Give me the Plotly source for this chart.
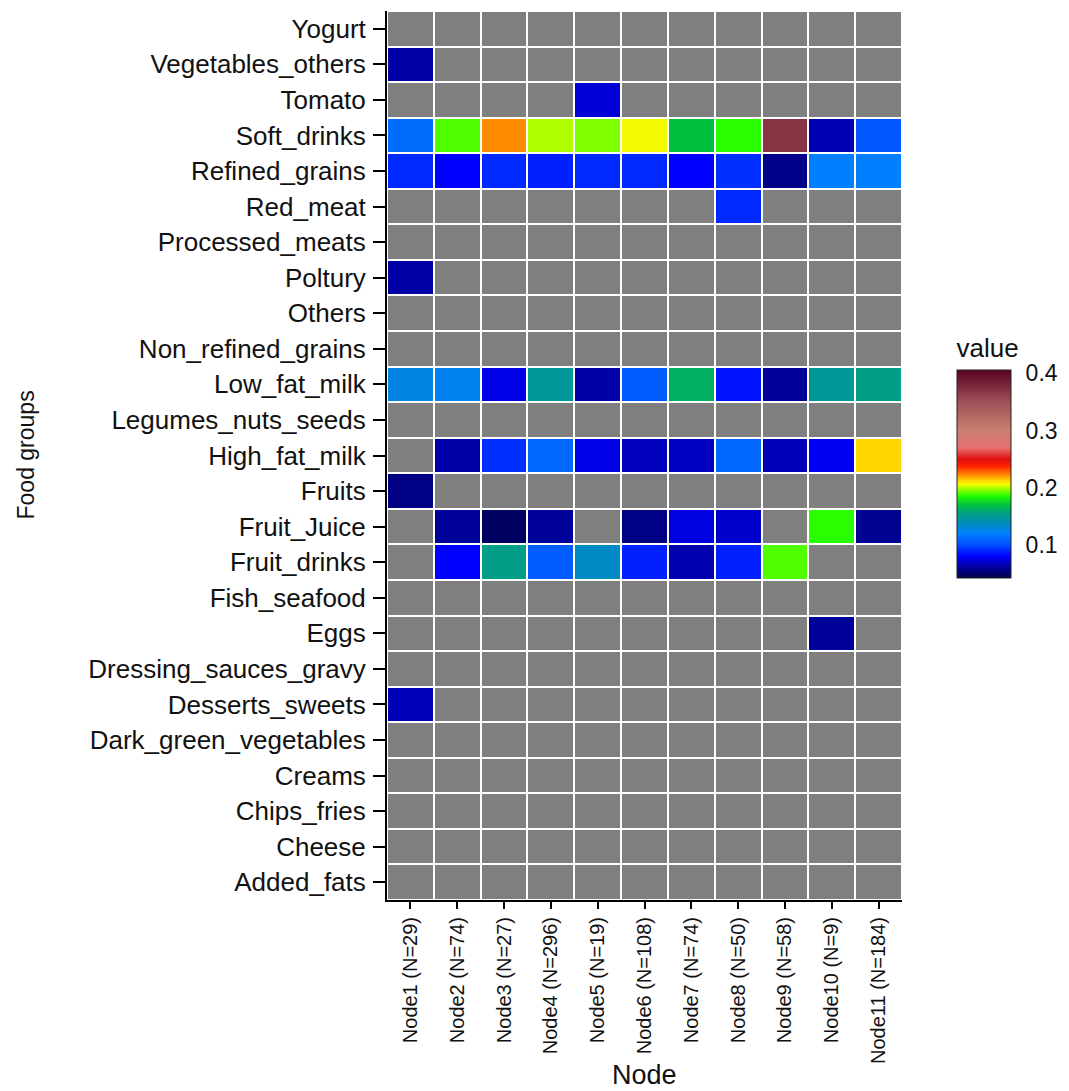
import plotly.graph_objects as go
import numpy as np

nodes = ["Node1 (N=29)", "Node2 (N=74)", "Node3 (N=27)", "Node4 (N=296)", "Node5 (N=19)",
         "Node6 (N=108)", "Node7 (N=74)", "Node8 (N=50)", "Node9 (N=58)", "Node10 (N=9)",
         "Node11 (N=184)"]

foods = ["Added_fats", "Cheese", "Chips_fries", "Creams", "Dark_green_vegetables",
         "Desserts_sweets", "Dressing_sauces_gravy", "Eggs", "Fish_seafood", "Fruit_drinks",
         "Fruit_Juice", "Fruits", "High_fat_milk", "Legumes_nuts_seeds", "Low_fat_milk",
         "Non_refined_grains", "Others", "Poltury", "Processed_meats", "Red_meat",
         "Refined_grains", "Soft_drinks", "Tomato", "Vegetables_others", "Yogurt"]

N = None
added_fats = [N] * 11
cheese = [N] * 11
chips_fries = [N] * 11
creams = [N] * 11
dark_green_vegetables = [N] * 11
desserts_sweets = [0.066, N, N, N, N, N, N, N, N, N, N]
dressing_sauces_gravy = [N] * 11
eggs = [N, N, N, N, N, N, N, N, N, 0.06, N]
fish_seafood = [N] * 11
fruit_drinks = [N, 0.08, 0.153, 0.105, 0.136, 0.088, 0.064, 0.088, 0.19, N, N]
fruit_juice = [N, 0.06, 0.047, 0.06, N, 0.055, 0.074, 0.07, N, 0.186, 0.058]
fruits = [0.055, N, N, N, N, N, N, N, N, N, N]
high_fat_milk = [N, 0.063, 0.092, 0.11, 0.075, 0.067, 0.068, 0.11, 0.066, 0.078, 0.212]
legumes_nuts_seeds = [N] * 11
low_fat_milk = [0.128, 0.124, 0.075, 0.148, 0.063, 0.105, 0.162, 0.085, 0.06, 0.148, 0.153]
non_refined_grains = [N] * 11
others = [N] * 11
poltury = [0.062, N, N, N, N, N, N, N, N, N, N]
processed_meats = [N] * 11
red_meat = [N, N, N, N, N, N, N, 0.09, N, N, N]
refined_grains = [0.09, 0.08, 0.09, 0.088, 0.09, 0.09, 0.08, 0.092, 0.056, 0.12, 0.12]
soft_drinks = [0.112, 0.19, 0.222, 0.2, 0.195, 0.206, 0.17, 0.186, 0.37, 0.065, 0.103]
tomato = [N, N, N, N, 0.072, N, N, N, N, N, N]
vegetables_others = [0.062, N, N, N, N, N, N, N, N, N, N]
yogurt = [N] * 11

rows = [added_fats, cheese, chips_fries, creams, dark_green_vegetables, desserts_sweets,
        dressing_sauces_gravy, eggs, fish_seafood, fruit_drinks, fruit_juice, fruits,
        high_fat_milk, legumes_nuts_seeds, low_fat_milk, non_refined_grains, others,
        poltury, processed_meats, red_meat, refined_grains, soft_drinks, tomato,
        vegetables_others, yogurt]

z = np.array([[np.nan if v is None else v for v in r] for r in rows], dtype=float)
na = np.where(np.isnan(z), 1.0, np.nan)

zmin, zmax = 0.042, 0.406
stops = [
    (0.042, "#00004a"), (0.06, "#00009a"), (0.08, "#0000ff"), (0.10, "#0050ff"),
    (0.12, "#0080ff"), (0.14, "#008cb4"), (0.155, "#00a080"), (0.17, "#00c040"),
    (0.185, "#20ff00"), (0.20, "#b0ff00"), (0.205, "#f0ff00"), (0.212, "#ffd700"),
    (0.222, "#ff8c00"), (0.238, "#ff2000"), (0.25, "#e01010"), (0.27, "#e87070"),
    (0.30, "#c88070"), (0.35, "#a05058"), (0.406, "#5a0020"),
]
colorscale = [[(v - zmin) / (zmax - zmin), c] for v, c in stops]

# plot area in figure pixels (page has an 8px body margin)
W, H = 1061, 1083
L, R, T, B = 379, 167, 3, 191
pw, ph = W - L - R, H - T - B

cb_left, cb_top, cb_bot, cb_th = 949, 362, 570, 54
title_h = 35
cbx = (cb_left - L) / pw
cby0 = (H - B - cb_bot) / ph
cby1 = (H - B - cb_top) / ph

fig = go.Figure()
fig.add_trace(go.Heatmap(
    x=nodes, y=foods, z=na, colorscale=[[0, "#7f7f7f"], [1, "#7f7f7f"]],
    showscale=False, xgap=2, ygap=2, hoverinfo="skip"))
fig.add_trace(go.Heatmap(
    x=nodes, y=foods, z=z, zmin=zmin, zmax=zmax, colorscale=colorscale,
    xgap=2, ygap=2,
    colorbar=dict(
        title=dict(text="value", side="top", font=dict(size=26, color="#111")),
        thickness=cb_th, thicknessmode="pixels", len=cb_bot - cb_top + title_h,
        lenmode="pixels",
        x=cbx, xanchor="left", y=cby0, yanchor="bottom", xpad=0, ypad=0,
        outlinecolor="#222", outlinewidth=1,
        tickvals=[0.1, 0.2, 0.3, 0.4], ticktext=["0.1", "0.2", "0.3", "0.4"],
        ticks="outside", tickcolor="rgba(0,0,0,0)", ticklen=10, tickwidth=1,
        tickfont=dict(size=23, color="#111"),
    )))

# white colorbar tick marks on both sides of the bar
shapes = []
for v in [0.1, 0.2, 0.3, 0.4]:
    yp = cby0 + (v - zmin) / (zmax - zmin) * (cby1 - cby0)
    for xa, xb in [(cb_left, cb_left + 9), (cb_left + cb_th - 9, cb_left + cb_th)]:
        shapes.append(dict(type="line", xref="paper", yref="paper",
                           x0=(xa - L) / pw, x1=(xb - L) / pw, y0=yp, y1=yp,
                           line=dict(color="white", width=1.5)))

fig.update_layout(
    width=W, height=H,
    margin=dict(l=L, r=R, t=T, b=B),
    plot_bgcolor="white", paper_bgcolor="white",
    font=dict(family="Liberation Sans, Arial, sans-serif", color="#111"),
    shapes=shapes,
    annotations=[
        dict(text="Node", xref="paper", yref="paper", x=0.5, y=(H - B - 1067) / ph,
             xanchor="center", yanchor="middle", showarrow=False,
             font=dict(size=27, color="#111")),
        dict(text="Food groups", xref="paper", yref="paper", x=(17 - L) / pw, y=0.5,
             xanchor="center", yanchor="middle", showarrow=False, textangle=-90,
             font=dict(size=23, color="#111")),
    ],
)
fig.update_xaxes(
    type="category", range=[-0.5, 10.5], showgrid=False, zeroline=False,
    showline=True, linecolor="black", linewidth=2, ticks="outside", ticklen=7,
    tickcolor="black", tickwidth=1.5, tickangle=-90, tickfont=dict(size=20, color="#111"),
    automargin=False)
fig.update_yaxes(
    type="category", range=[-0.5, 24.5], showgrid=False, zeroline=False,
    showline=True, linecolor="black", linewidth=2, ticks="outside", ticklen=12,
    tickcolor="black", tickwidth=1.5, tickfont=dict(size=26, color="#111"),
    ticklabelstandoff=2, automargin=False)

fig.write_html("out.html")
